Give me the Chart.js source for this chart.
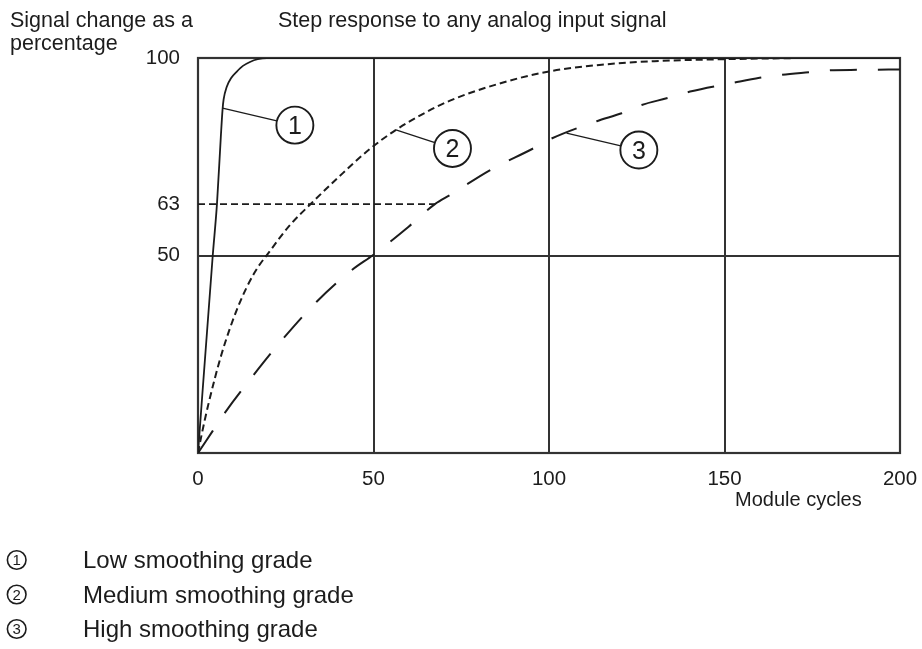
<!DOCTYPE html>
<html><head><meta charset="utf-8">
<script src="https://cdn.jsdelivr.net/npm/chart.js@4.4.0/dist/chart.umd.min.js"></script>
<style>html,body{margin:0;padding:0;background:#fff;}canvas{display:block;}</style>
</head><body>
<canvas id="c" width="922" height="649"></canvas>
<script>
// ---- data ----
const xTickValues = [0, 50, 100, 150, 200];
const yTickValues = [50, 63, 100];

const lowX = [0, 4.2, 5.4, 6.5, 7.0, 7.3, 8.2, 9.5, 11, 12.8, 14.8, 17, 19.6, 200];
const lowY = [0, 50, 63, 80, 87, 89.5, 92.7, 95, 96.5, 98, 99, 99.7, 100, 100];

const medX = [0, 1, 3, 6.7, 11.4, 16, 20.8, 26, 32.4, 40, 49, 56.4, 64, 71.8, 85, 100, 115, 130, 150, 172];
const medY = [0, 4.5, 12.5, 25, 37, 45.5, 51.5, 57.5, 63.3, 69.8, 77, 81.8, 85.8, 89.2, 93.3, 96.6, 98.3, 99.2, 99.7, 100];

const highX = [0, 4.2, 7.5, 15.8, 24.3, 33.8, 43.8, 50, 60, 67.5, 72, 83, 95.5, 100.7, 113.6, 120.7, 126.4, 133.5, 140.2, 152.4, 160, 166, 174, 180, 188, 200];
const highY = [0, 5.6, 10, 19.7, 29, 38.3, 46.3, 50.2, 57.3, 63, 65.4, 71.5, 77.1, 79.6, 84, 86, 88.1, 89.8, 91.5, 93.7, 95, 95.7, 96.4, 96.9, 97, 97.1];

const refX = [0, 67.5];
const refY = [63, 63];

const seriesNames = ['Low smoothing grade', 'Medium smoothing grade', 'High smoothing grade'];
const calloutDigits = ['1', '2', '3'];
const calloutAnchorX = [7.0, 56.4, 105];
const calloutAnchorY = [87.3, 81.8, 81];
const calloutCenterX = [27.6, 72.5, 125.6];
const calloutCenterY = [83, 77.1, 76.7];

const yAxisTitle = ['Signal change as a', 'percentage'];
const chartTitle = 'Step response to any analog input signal';
const xAxisTitle = 'Module cycles';

// ---- build ----
const pts = (xs, ys) => xs.map((x, i) => ({x: x, y: ys[i]}));
const FONT = '"Liberation Sans", Arial, Helvetica, sans-serif';
const INK = '#1c1c1c';

const deco = {
  id: 'deco',
  beforeDatasetsDraw(chart) {
    const ctx = chart.ctx, a = chart.chartArea;
    ctx.save();
    ctx.strokeStyle = '#333';
    ctx.lineWidth = 2.2;
    ctx.strokeRect(a.left, a.top, a.right - a.left, a.bottom - a.top);
    ctx.restore();
  },
  afterDatasetsDraw(chart) {
    const ctx = chart.ctx, xs = chart.scales.x, ys = chart.scales.y;
    ctx.save();
    const r = 18.5;
    for (let i = 0; i < calloutDigits.length; i++) {
      const ax = xs.getPixelForValue(calloutAnchorX[i]), ay = ys.getPixelForValue(calloutAnchorY[i]);
      const cx = xs.getPixelForValue(calloutCenterX[i]), cy = ys.getPixelForValue(calloutCenterY[i]);
      const d = Math.hypot(ax - cx, ay - cy);
      const ex = cx + (ax - cx) / d * r, ey = cy + (ay - cy) / d * r;
      ctx.strokeStyle = INK; ctx.lineWidth = 1.3;
      ctx.beginPath(); ctx.moveTo(ax, ay); ctx.lineTo(ex, ey); ctx.stroke();
      ctx.beginPath(); ctx.arc(cx, cy, r, 0, Math.PI * 2);
      ctx.fillStyle = '#fff'; ctx.fill();
      ctx.lineWidth = 1.9; ctx.stroke();
      ctx.fillStyle = INK; ctx.font = '25px ' + FONT;
      ctx.textAlign = 'center'; ctx.textBaseline = 'alphabetic';
      ctx.fillText(calloutDigits[i], cx, cy + 9);
    }
    ctx.restore();
  },
  afterDraw(chart) {
    const ctx = chart.ctx;
    ctx.save();
    ctx.fillStyle = INK;
    ctx.textAlign = 'left'; ctx.textBaseline = 'alphabetic';
    ctx.font = '21.5px ' + FONT;
    ctx.fillText(yAxisTitle[0], 10, 26.5);
    ctx.fillText(yAxisTitle[1], 10, 50);
    ctx.fillText(chartTitle, 278, 26.5);
    ctx.font = '20px ' + FONT;
    ctx.fillText(xAxisTitle, 735, 506);
    // key below the chart
    for (let i = 0; i < seriesNames.length; i++) {
      const cy = 560 + i * 34.5;
      ctx.beginPath(); ctx.arc(16.7, cy, 9.3, 0, Math.PI * 2);
      ctx.strokeStyle = INK; ctx.lineWidth = 1.6; ctx.stroke();
      ctx.font = '15px ' + FONT; ctx.textAlign = 'center';
      ctx.fillText(calloutDigits[i], 16.7, cy + 5.4);
      ctx.font = '24px ' + FONT; ctx.textAlign = 'left';
      ctx.fillText(seriesNames[i], 83, 568.3 + i * 34.5);
    }
    ctx.restore();
  }
};

const lineStyle = {pointRadius: 0, fill: false, borderColor: INK, cubicInterpolationMode: 'monotone'};

new Chart(document.getElementById('c'), {
  type: 'line',
  data: {
    datasets: [
      Object.assign({label: seriesNames[0], data: pts(lowX, lowY), borderWidth: 1.8}, lineStyle),
      Object.assign({label: seriesNames[1], data: pts(medX, medY), borderWidth: 2, borderDash: [7, 4]}, lineStyle),
      Object.assign({label: seriesNames[2], data: pts(highX, highY), borderWidth: 2, borderDash: [27, 21]}, lineStyle),
      Object.assign({label: '63 %', data: pts(refX, refY), borderWidth: 1.8, borderDash: [7, 4]}, lineStyle, {cubicInterpolationMode: 'default', tension: 0})
    ]
  },
  options: {
    responsive: false,
    animation: false,
    events: [],
    layout: {padding: {left: 0, top: 58, right: 22, bottom: 0}},
    plugins: {legend: {display: false}, tooltip: {enabled: false}, title: {display: false}},
    scales: {
      x: {
        type: 'linear', min: 0, max: 200,
        afterBuildTicks: s => { s.ticks = xTickValues.map(v => ({value: v})); },
        afterFit: s => { s.height = 196; s.paddingLeft = 0; s.paddingRight = 0; },
        border: {display: false},
        grid: {drawTicks: false, lineWidth: 2, color: c => (c.tick && c.tick.value > 0 && c.tick.value < 200) ? '#333' : 'rgba(0,0,0,0)'},
        ticks: {padding: 14, color: INK, font: {family: FONT, size: 20.5}, maxRotation: 0}
      },
      y: {
        type: 'linear', min: 0, max: 100,
        afterBuildTicks: s => { s.ticks = yTickValues.map(v => ({value: v})); },
        afterFit: s => { s.width = 198; s.paddingTop = 0; s.paddingBottom = 0; },
        border: {display: false},
        grid: {drawTicks: false, lineWidth: 2, color: c => (c.tick && c.tick.value === 50) ? '#333' : 'rgba(0,0,0,0)'},
        ticks: {padding: 18, color: INK, font: {family: FONT, size: 20.5}}
      }
    }
  },
  plugins: [deco]
});
</script>
</body></html>
